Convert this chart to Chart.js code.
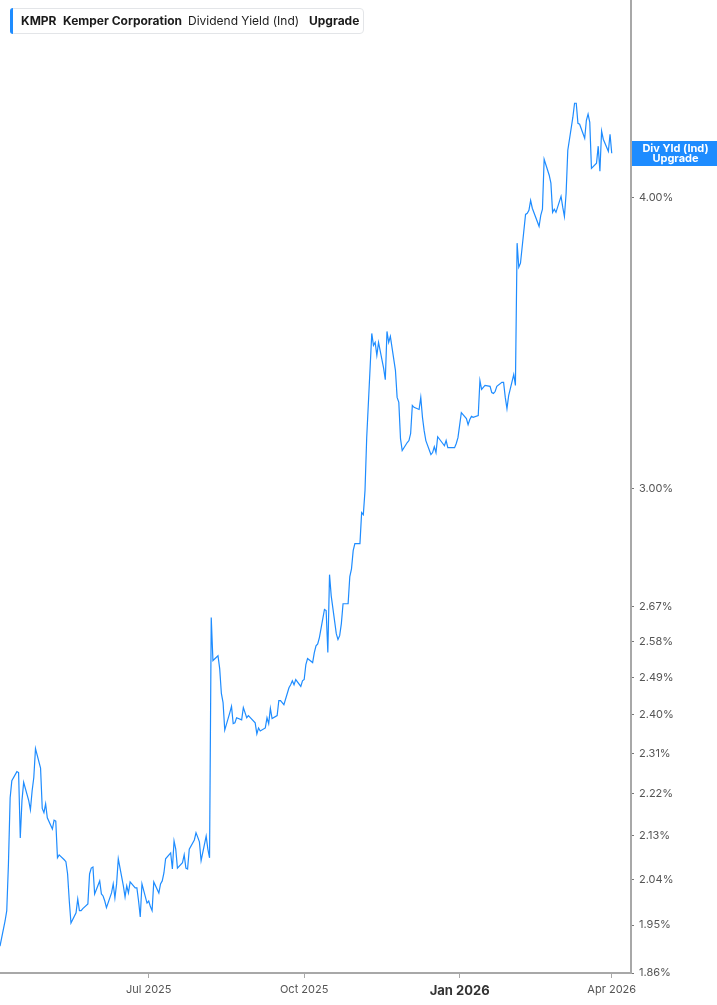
<!DOCTYPE html>
<html>
<head>
<meta charset="utf-8">
<script src="https://cdn.jsdelivr.net/npm/chart.js@4.4.1/dist/chart.umd.min.js"></script>
<style>
  html, body { margin: 0; padding: 0; background: #fff; }
  #wrap { position: relative; width: 717px; height: 1005px; overflow: hidden; }
  #c { position: absolute; left: 0; top: 0; }
  #legend {
    position: absolute; left: 10px; top: 8px; width: 352px; height: 24px;
    border: 1px solid #e3e5e8; border-radius: 4px; background: #fff;
    font-family: Inter, "Noto Sans", sans-serif; font-size: 12px; color: #1b1b1b;
  }
  #legend .bar { position: absolute; left: -1px; top: -1px; bottom: -1px; width: 3px; background: #1e8cff; border-radius: 3px 0 0 3px; }
  #legend span { position: absolute; top: 4px; white-space: nowrap; line-height: 16px; }
</style>
</head>
<body>
<div id="wrap">
  <canvas id="c" width="717" height="1005"></canvas>
  <div id="legend"><div class="bar"></div></div>
</div>
<script>
// ---------------- data ----------------
const legendItems = [
  { text: 'KMPR', bold: true },
  { text: 'Kemper Corporation', bold: true },
  { text: 'Dividend Yield (Ind)', bold: false },
  { text: 'Upgrade', bold: true }
];
const tagLines = ['Div Yld (Ind)', 'Upgrade'];

// first trading day shown and market holidays inside the window
const startDate = '2025-04-04';
const marketHolidays = ['2025-09-01', '2026-01-01', '2026-02-16'];

// dividend yield (%) per trading day
const yieldPct = [
  // Apr - Jun 2025
  1.910,1.958,1.978,2.072,2.211,2.249,2.269,2.267,2.125,2.205,
  2.245,2.205,2.185,2.226,2.256,2.321,2.277,2.188,2.179,2.198,
  2.168,2.144,2.163,2.161,2.084,2.090,2.080,2.076,2.051,1.997,
  1.954,1.974,2.001,1.978,1.978,1.982,1.991,2.051,2.063,2.065,
  2.011,2.037,2.011,2.007,1.997,1.984,2.013,2.031,
  // Jun - Aug 2025
  2.003,2.031,2.082,2.027,2.005,2.027,2.013,2.035,2.023,2.023,
  1.997,1.966,2.031,1.993,1.997,1.986,1.978,2.035,2.013,2.031,
  2.037,2.053,2.082,2.094,2.061,2.119,2.102,2.063,2.074,2.090,
  2.063,2.061,2.102,2.121,2.136,2.127,2.117,2.078,2.129,2.102,
  2.084,2.642,
  // Aug - Oct 2025
  2.532,2.544,2.512,2.451,2.429,2.364,2.405,2.420,2.379,2.381,
  2.393,2.388,2.417,2.405,2.393,2.398,2.381,2.355,2.369,2.362,
  2.369,2.393,2.379,2.415,2.391,2.398,2.434,2.434,2.429,2.424,
  2.465,2.472,2.482,2.472,2.485,2.468,2.482,2.485,2.522,2.537,
  2.527,2.552,2.569,2.574,2.590,2.663,2.660,2.552,2.756,2.699,
  2.600,2.585,2.595,2.626,2.678,2.678,2.751,
  // Oct - Dec 2025
  2.772,2.822,2.842,2.842,2.930,2.924,2.995,3.155,3.497,3.456,
  3.466,3.422,3.466,3.379,3.341,3.504,3.466,3.487,3.372,3.283,
  3.267,3.152,3.115,3.140,3.146,3.168,3.257,3.251,3.244,3.283,
  3.219,3.177,3.146,3.103,
  // Dec 2025 - Feb 2026
  3.109,3.127,3.109,3.158,3.137,3.130,3.146,3.124,3.124,3.124,
  3.137,3.155,3.234,3.215,3.196,3.212,3.222,3.219,3.225,3.338,
  3.309,3.316,3.322,3.319,3.299,3.296,3.302,3.319,3.332,3.332,
  3.283,3.247,3.289,3.358,3.322,3.823,3.733,3.748,
  // Feb - Apr 2026
  3.933,3.937,3.949,3.988,3.957,3.887,3.929,3.953,4.153,4.088,
  4.056,3.941,3.953,3.941,4.004,3.961,3.925,4.016,4.190,4.329,
  4.389,4.389,4.303,4.299,4.240,4.316,4.342,4.307,4.116,4.137,
  4.207,4.104,4.270,4.236,4.186,4.257,4.178
];

const yTicks = [1.86, 1.95, 2.04, 2.13, 2.22, 2.31, 2.40, 2.49, 2.58, 2.67, 3.00, 4.00];
const xTickDates = ['2025-07-01', '2025-10-01', '2026-01-01', '2026-04-01'];
const xTickLabels = ['Jul 2025', 'Oct 2025', 'Jan 2026', 'Apr 2026'];
const boldTickLabel = 'Jan 2026';

// ---------------- helpers ----------------
const LINE = '#1e8cff';
const FONT = 'Inter, "Noto Sans", sans-serif';
const DAY = 86400000;
const dayNum = s => Date.parse(s + 'T00:00:00Z') / DAY;

function tradingDates(start, n, holidays) {
  const out = [];
  const hol = new Set(holidays);
  let t = Date.parse(start + 'T00:00:00Z');
  while (out.length < n) {
    const d = new Date(t);
    const wd = d.getUTCDay();
    const iso = d.toISOString().slice(0, 10);
    if (wd !== 0 && wd !== 6 && !hol.has(iso)) out.push(iso);
    t += DAY;
  }
  return out;
}

const dates = tradingDates(startDate, yieldPct.length, marketHolidays);
const points = dates.map((d, i) => ({ x: dayNum(d), y: yieldPct[i] }));

// legend (real text)
const legendEl = document.getElementById('legend');
const legendLeft = [10, 52, 177, 298];
legendItems.forEach((it, i) => {
  const s = document.createElement('span');
  s.textContent = it.text;
  s.style.left = legendLeft[i] + 'px';
  s.style.fontWeight = it.bold ? '700' : '400';
  legendEl.appendChild(s);
});

// last value tag on the right axis
const lastValueTag = {
  id: 'lastValueTag',
  afterDraw(chart) {
    const meta = chart.getDatasetMeta(0);
    const pt = meta.data[meta.data.length - 1];
    if (!pt) return;
    const { ctx, chartArea } = chart;
    const x0 = chartArea.right + 1;
    const w = chart.width - x0;
    const h = 25;
    const y0 = Math.round(pt.y - h / 2);
    ctx.save();
    ctx.fillStyle = LINE;
    ctx.fillRect(x0, y0, w, h);
    ctx.fillStyle = '#fff';
    ctx.font = 'bold 11px ' + FONT;
    ctx.textAlign = 'center';
    ctx.textBaseline = 'middle';
    ctx.fillText(tagLines[0], x0 + w / 2 + 1, y0 + 7.5);
    ctx.fillText(tagLines[1], x0 + w / 2 + 1, y0 + 18);
    ctx.restore();
  }
};

const xMin = dayNum('2025-04-04');
const xMax = dayNum('2026-04-12') + 0.4;

new Chart(document.getElementById('c').getContext('2d'), {
  type: 'line',
  data: {
    datasets: [{
      data: points,
      borderColor: LINE,
      borderWidth: 1.2,
      pointRadius: 0,
      tension: 0,
      fill: false
    }]
  },
  options: {
    responsive: false,
    animation: false,
    parsing: false,
    layout: { padding: 0 },
    plugins: { legend: { display: false }, tooltip: { enabled: false } },
    scales: {
      x: {
        type: 'linear',
        position: 'bottom',
        min: xMin,
        max: xMax,
        afterBuildTicks: s => { s.ticks = xTickDates.map(d => ({ value: dayNum(d) })); },
        afterFit: s => { s.height = 32; s.paddingLeft = 0; s.paddingRight = 0; },
        ticks: {
          autoSkip: false,
          maxRotation: 0,
          padding: 5,
          callback: (v, i) => xTickLabels[i],
          font: c => (xTickLabels[c.index] === boldTickLabel)
            ? { family: FONT, size: 13, weight: 'bold' }
            : { family: FONT, size: 11 },
          color: c => (xTickLabels[c.index] === boldTickLabel) ? '#333' : '#555'
        },
        grid: { drawOnChartArea: false, drawTicks: true, tickLength: 5, color: '#a8a8a8', tickWidth: 1 },
        border: { display: true, color: '#a8a8a8', width: 2 }
      },
      y: {
        type: 'logarithmic',
        position: 'right',
        min: 1.86,
        max: 4.86,
        afterBuildTicks: s => { s.ticks = yTicks.map(v => ({ value: v })); },
        afterFit: s => { s.width = 86; s.paddingTop = 0; s.paddingBottom = 0; },
        ticks: {
          autoSkip: false,
          padding: 5,
          callback: v => Number(v).toFixed(2) + '%',
          font: { family: FONT, size: 11 },
          color: '#555'
        },
        grid: { drawOnChartArea: false, drawTicks: true, tickLength: 3, color: '#777' },
        border: { display: true, color: '#a8a8a8', width: 2 }
      }
    }
  },
  plugins: [lastValueTag]
});
</script>
</body>
</html>
